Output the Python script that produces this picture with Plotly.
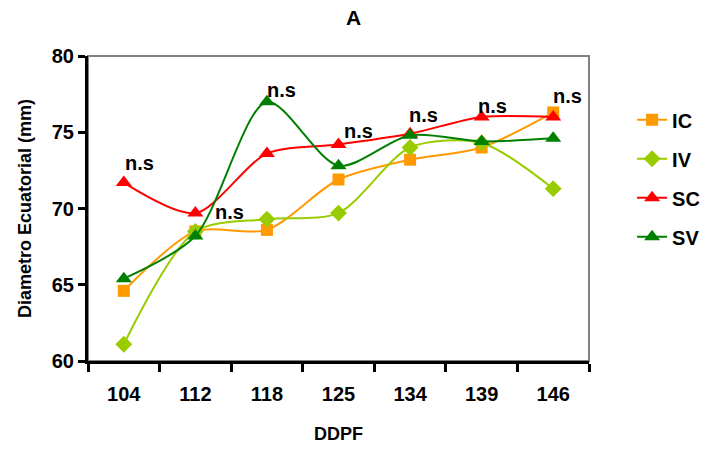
import plotly.graph_objects as go

categories = ["104", "112", "118", "125", "134", "139", "146"]
ic = [64.6, 68.5, 68.6, 71.9, 73.2, 74.0, 76.3]
iv = [61.1, 68.5, 69.3, 69.7, 74.0, 74.3, 71.3]
sc = [71.7, 69.7, 73.6, 74.2, 74.9, 76.0, 76.0]
sv = [65.4, 68.2, 77.0, 72.8, 74.8, 74.4, 74.6]
ns_labels = ["n.s", "n.s", "n.s", "n.s", "n.s", "n.s", "n.s"]
y_ticks = [60, 65, 70, 75, 80]

FONT = "Liberation Sans, Arial, sans-serif"

series = [
    ("IC", ic, "#FF9900", "square", 12),
    ("IV", iv, "#99CC00", "diamond", 13),
    ("SC", sc, "#FF0000", "triangle-up", 14),
    ("SV", sv, "#008000", "triangle-up", 14),
]

fig = go.Figure()
for name, vals, color, sym, size in series:
    fig.add_trace(go.Scatter(
        x=categories, y=vals, name="<b>%s</b>" % name, mode="lines+markers",
        line=dict(color=color, width=2, shape="spline", smoothing=0.8),
        marker=dict(symbol=sym, size=size, color=color),
        legendgroup=name,
    ))

# n.s labels anchored to the top-most point of each category
label_offsets = [(-1, 7), (18, -12), (-2, -1), (3, 0), (-3, 6), (-6, -2), (-2, 3)]
for i, lab in enumerate(ns_labels):
    top = max(ic[i], iv[i], sc[i], sv[i])
    dx, dy = label_offsets[i]
    fig.add_annotation(
        x=i, y=top, text="<b>%s</b>" % lab, showarrow=False,
        xanchor="left", yanchor="bottom", xshift=dx, yshift=dy,
        font=dict(family=FONT, size=20, color="black"),
    )

fig.add_shape(type="rect", xref="paper", yref="paper", x0=0, x1=1, y0=0, y1=1,
              line=dict(color="#808080", width=2), layer="below")

fig.update_layout(
    width=707, height=455,
    margin=dict(l=88, r=118, t=56, b=94, autoexpand=False),
    paper_bgcolor="white", plot_bgcolor="white",
    title=dict(text="<b>A</b>", x=0.5, xanchor="center", y=0.962, yanchor="middle",
               font=dict(family=FONT, size=21, color="black")),
    font=dict(family=FONT, color="black"),
    legend=dict(x=1.086, y=0.855, xanchor="left", yanchor="top",
                font=dict(family=FONT, size=20, color="black"),
                tracegroupgap=10, bgcolor="rgba(0,0,0,0)"),
    xaxis=dict(
        type="category", tickson="boundaries", showgrid=False,
        showline=True, linecolor="black", linewidth=3,
        ticks="outside", ticklen=8, tickwidth=3, tickcolor="black",
        tickfont=dict(family=FONT, size=20, color="black"),
        ticklabelstandoff=13,
        title=dict(text="<b>DDPF</b>", font=dict(family=FONT, size=18, color="black"), standoff=24),
        range=[-0.5, 6.5], zeroline=False,
        tickvals=categories, ticktext=["<b>%s</b>" % c for c in categories],
    ),
    yaxis=dict(
        range=[60, 80], tickvals=y_ticks, ticktext=["<b>%d</b>" % v for v in y_ticks],
        showgrid=False, zeroline=False,
        showline=True, linecolor="black", linewidth=3,
        ticks="outside", ticklen=7, tickwidth=3, tickcolor="black",
        tickfont=dict(family=FONT, size=20, color="black"),
        title=dict(text="<b>Diametro Ecuatorial (mm)</b>", font=dict(family=FONT, size=18, color="black"), standoff=16),
    ),
)

fig.write_html("out.html")
